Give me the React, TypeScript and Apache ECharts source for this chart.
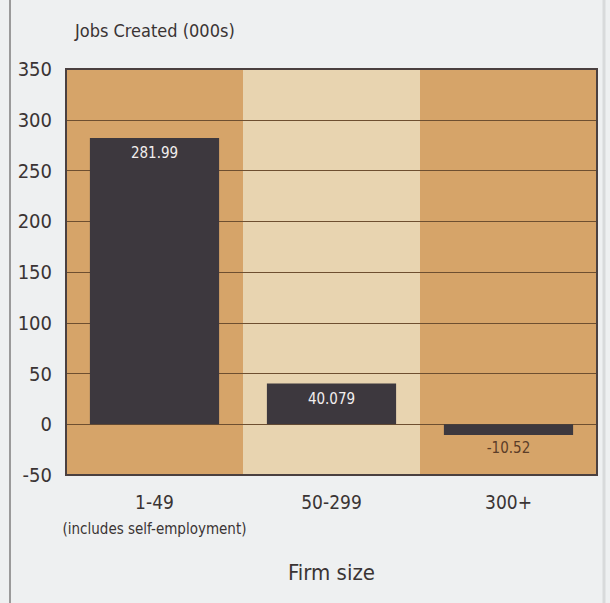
import React, { useEffect, useRef } from "react";
import * as echarts from "echarts";

const categories = ["1-49", "50-299", "300+"];
const subLabels = ["(includes self-employment)", "", ""];
const jobsCreated = [281.99, 40.079, -10.52];
const valueLabels = ["281.99", "40.079", "-10.52"];
const yTicks = [-50, 0, 50, 100, 150, 200, 250, 300, 350];

const FONT = "'DejaVu Sans Condensed', 'DejaVu Sans', sans-serif";

export default function App() {
  const ref = useRef<HTMLDivElement>(null);
  useEffect(() => {
    if (!ref.current) return;
    const chart = echarts.init(ref.current, null, { renderer: "svg" });
    const labelPositions = [
      { position: "insideTop", distance: 7, color: "#f2eeee" },
      { position: "insideTop", distance: 8, color: "#f2eeee" },
      { position: "bottom", distance: 6, color: "#5b3d28" },
    ];
    chart.setOption({
      animation: false,
      backgroundColor: "#eef0f1",
      textStyle: { fontFamily: FONT },
      title: {
        text: "Jobs Created (000s)",
        left: 70,
        top: 16,
        textStyle: { fontFamily: FONT, fontSize: 18, fontWeight: "normal", color: "#3a3434" },
      },
      graphic: [
        { type: "line", shape: { x1: 10, y1: 0, x2: 10, y2: 603 }, style: { stroke: "#9a9a9a", lineWidth: 2 } },
        { type: "line", shape: { x1: 604, y1: 0, x2: 604, y2: 603 }, style: { stroke: "#d8dadb", lineWidth: 3 } },
      ],
      grid: {
        left: 66,
        top: 69,
        right: 13,
        bottom: 128,
        show: true,
        borderColor: "#4a4040",
        borderWidth: 2,
        backgroundColor: "transparent",
        z: 3,
      },
      xAxis: {
        type: "category",
        z: 0,
        data: categories,
        name: "Firm size",
        nameLocation: "middle",
        nameGap: 86,
        nameTextStyle: { fontFamily: FONT, fontSize: 22, color: "#3a3434" },
        axisLine: { show: false },
        axisTick: { show: false },
        splitArea: { show: true, areaStyle: { color: ["#d6a469", "#e8d4b0"] } },
        axisLabel: {
          margin: 14,
          interval: 0,
          formatter: (v: string) => {
            const i = categories.indexOf(v);
            const s = subLabels[i];
            return s ? `{a|${v}}\n{b|${s}}` : `{a|${v}}`;
          },
          rich: {
            a: { fontFamily: FONT, fontSize: 19, color: "#3a3434", lineHeight: 26 },
            b: { fontFamily: FONT, fontSize: 15, color: "#3a3434", lineHeight: 28 },
          },
          verticalAlign: "top",
        },
      },
      yAxis: {
        type: "value",
        z: 1,
        min: -50,
        max: 350,
        interval: 50,
        axisLine: { show: false },
        axisTick: { show: false },
        axisLabel: {
          margin: 14,
          fontFamily: FONT,
          fontSize: 20,
          color: "#3a3434",
          formatter: (v: number) => (yTicks.includes(v) ? String(v) : ""),
        },
        splitLine: { show: true, lineStyle: { color: "#6e4f30", width: 1 } },
      },
      series: [
        {
          type: "bar",
          barWidth: "73%",
          z: 2,
          itemStyle: { color: "#3d383e" },
          data: jobsCreated.map((v, i) => ({
            value: v,
            label: {
              show: true,
              position: labelPositions[i].position,
              distance: labelPositions[i].distance,
              color: labelPositions[i].color,
              fontFamily: FONT,
              fontSize: 15,
              formatter: () => valueLabels[i],
            },
          })),
        },
      ],
    });
    return () => chart.dispose();
  }, []);
  return (
    <div
      ref={ref}
      style={{ position: "fixed", left: 0, top: 0, width: 610, height: 603 }}
    />
  );
}
